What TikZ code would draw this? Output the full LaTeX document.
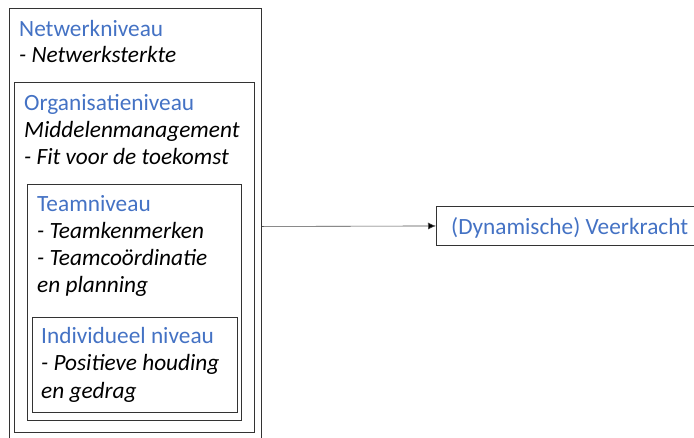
\documentclass[tikz,border=0pt]{standalone}
\usepackage{fontspec}
\setmainfont{Carlito}
\usetikzlibrary{arrows.meta}
\definecolor{lvl}{HTML}{4472C4}
\begin{document}
\begin{tikzpicture}[x=1pt,y=-1pt,
  boxline/.style={draw=black!80, line width=0.9pt, inner sep=0pt, anchor=north west, fill=none},
  head/.style={anchor=base west, inner sep=0pt, text=lvl, font=\fontsize{23.3}{26}\selectfont},
  item/.style={anchor=base west, inner sep=0pt, font=\fontsize{23.3}{26}\selectfont\itshape}]
\useasboundingbox (0,0) rectangle (694,437);
\clip (0,0) rectangle (694,437);
% boxes
\node[boxline, minimum width=252pt, minimum height=436pt] (net) at (9,8) {};
\node[boxline, minimum width=240pt, minimum height=350pt] (org) at (14,82) {};
\node[boxline, minimum width=214pt, minimum height=236pt] (team) at (27,184) {};
\node[boxline, minimum width=205pt, minimum height=95pt] (ind) at (32,317) {};
\node[boxline, minimum width=264pt, minimum height=39pt] (veer) at (436,206) {};
% texts
\node[head] (t1) at (19,36) {Netwerkniveau};
\node[item] (t2) at (19,62) {- Netwerksterkte};
\node[head] (t3) at (24,110) {Organisatieniveau};
\node[item] (t4) at (24,137) {Middelenmanagement};
\node[item] (t5) at (24,164) {- Fit voor de toekomst};
\node[head] (t6) at (37,211) {Teamniveau};
\node[item] (t7) at (37,238) {- Teamkenmerken};
\node[item] (t8) at (37,265) {- Teamcoördinatie};
\node[item] (t9) at (37,292) {en planning};
\node[head] (t10) at (41,343) {Individueel niveau};
\node[item] (t11) at (41,370) {- Positieve houding};
\node[item] (t12) at (41,398) {en gedrag};
\node[head] (t13) at (451,234) {(Dynamische) Veerkracht};
% connector
\draw[draw=black!70, line width=0.6pt, -{Latex[length=8pt,width=7pt,fill=black]}] (net.east) -- (veer.west);
\end{tikzpicture}
\end{document}
